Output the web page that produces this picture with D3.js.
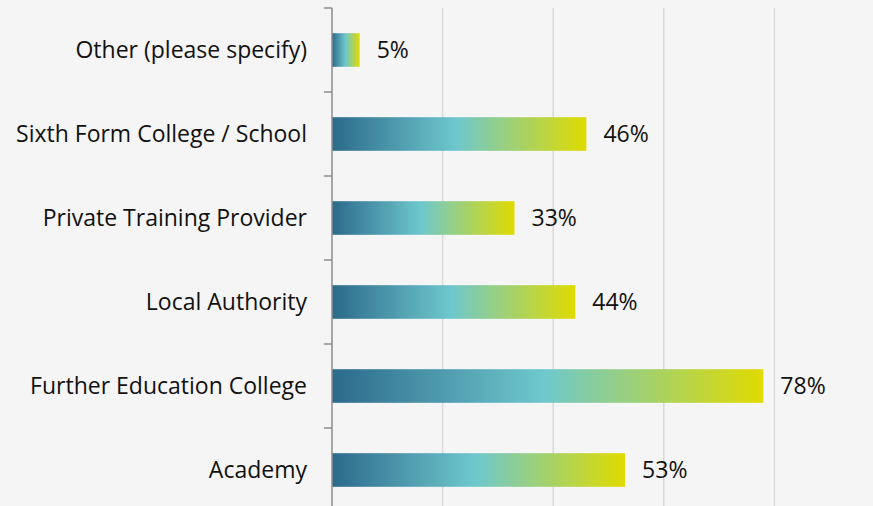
<!DOCTYPE html>
<html>
<head>
<meta charset="utf-8">
<script src="https://cdn.jsdelivr.net/npm/d3@7"></script>
<style>
  html, body { margin: 0; padding: 0; background: #f5f5f5; }
  svg { display: block; }
  text { font-family: "Open Sans", "Noto Sans", sans-serif; fill: #111; }
</style>
</head>
<body>
<div id="chart"></div>
<script>
// 类别（从上到下）和百分比
const categories = [
  "Other (please specify)",
  "Sixth Form College / School",
  "Private Training Provider",
  "Local Authority",
  "Further Education College",
  "Academy",
];
const values = [5, 46, 33, 44, 78, 53];
const gridTicks = [20, 40, 60, 80, 100];

const WIDTH = 873;
const HEIGHT = 506;
const AXIS_X = 332;

const svg = d3
  .select("#chart")
  .append("svg")
  .attr("width", WIDTH)
  .attr("height", HEIGHT);

// 渐变：深蓝 -> 青 -> 黄
const grad = svg
  .append("defs")
  .append("linearGradient")
  .attr("id", "barGrad")
  .attr("x1", "0%")
  .attr("x2", "100%")
  .attr("y1", "0%")
  .attr("y2", "0%");
grad.append("stop").attr("offset", "0%").attr("stop-color", "#2c6a8b");
grad.append("stop").attr("offset", "49%").attr("stop-color", "#6ec8cd");
grad.append("stop").attr("offset", "100%").attr("stop-color", "#e0db00");

const x = d3.scaleLinear().domain([0, 100]).range([AXIS_X, AXIS_X + 553]);

const y = d3
  .scaleBand()
  .domain(categories)
  .range([8, 512])
  .paddingInner(0.6)
  .paddingOuter(0.3);

// 网格线
svg
  .append("g")
  .selectAll("line")
  .data(gridTicks)
  .join("line")
  .attr("x1", (d) => x(d))
  .attr("x2", (d) => x(d))
  .attr("y1", 8)
  .attr("y2", HEIGHT)
  .attr("stroke", "#d9d9d9")
  .attr("stroke-width", 1.5);

// 条形
svg
  .append("g")
  .selectAll("rect")
  .data(values)
  .join("rect")
  .attr("x", x(0))
  .attr("y", (d, i) => y(categories[i]))
  .attr("width", (d) => x(d) - x(0))
  .attr("height", y.bandwidth())
  .attr("fill", "url(#barGrad)");

// 纵轴与刻度
const axis = svg.append("g");
axis
  .append("line")
  .attr("x1", AXIS_X)
  .attr("x2", AXIS_X)
  .attr("y1", 8)
  .attr("y2", HEIGHT)
  .attr("stroke", "#8c8c8c")
  .attr("stroke-width", 1.5);

const tickYs = d3.range(categories.length + 1).map((i) => 8 + i * y.step());
axis
  .selectAll("line.tick")
  .data(tickYs)
  .join("line")
  .attr("class", "tick")
  .attr("x1", AXIS_X - 8)
  .attr("x2", AXIS_X)
  .attr("y1", (d) => d)
  .attr("y2", (d) => d)
  .attr("stroke", "#8c8c8c")
  .attr("stroke-width", 1.5);

// 类别标签
svg
  .append("g")
  .selectAll("text")
  .data(categories)
  .join("text")
  .attr("x", AXIS_X - 25)
  .attr("y", (d) => y(d) + y.bandwidth() / 2)
  .attr("dy", "0.36em")
  .attr("text-anchor", "end")
  .attr("font-size", 23)
  .text((d) => d);

// 数值标签
svg
  .append("g")
  .selectAll("text")
  .data(values)
  .join("text")
  .attr("x", (d) => x(d) + 17)
  .attr("y", (d, i) => y(categories[i]) + y.bandwidth() / 2)
  .attr("dy", "0.36em")
  .attr("font-size", 23)
  .text((d) => d + "%");
</script>
</body>
</html>
